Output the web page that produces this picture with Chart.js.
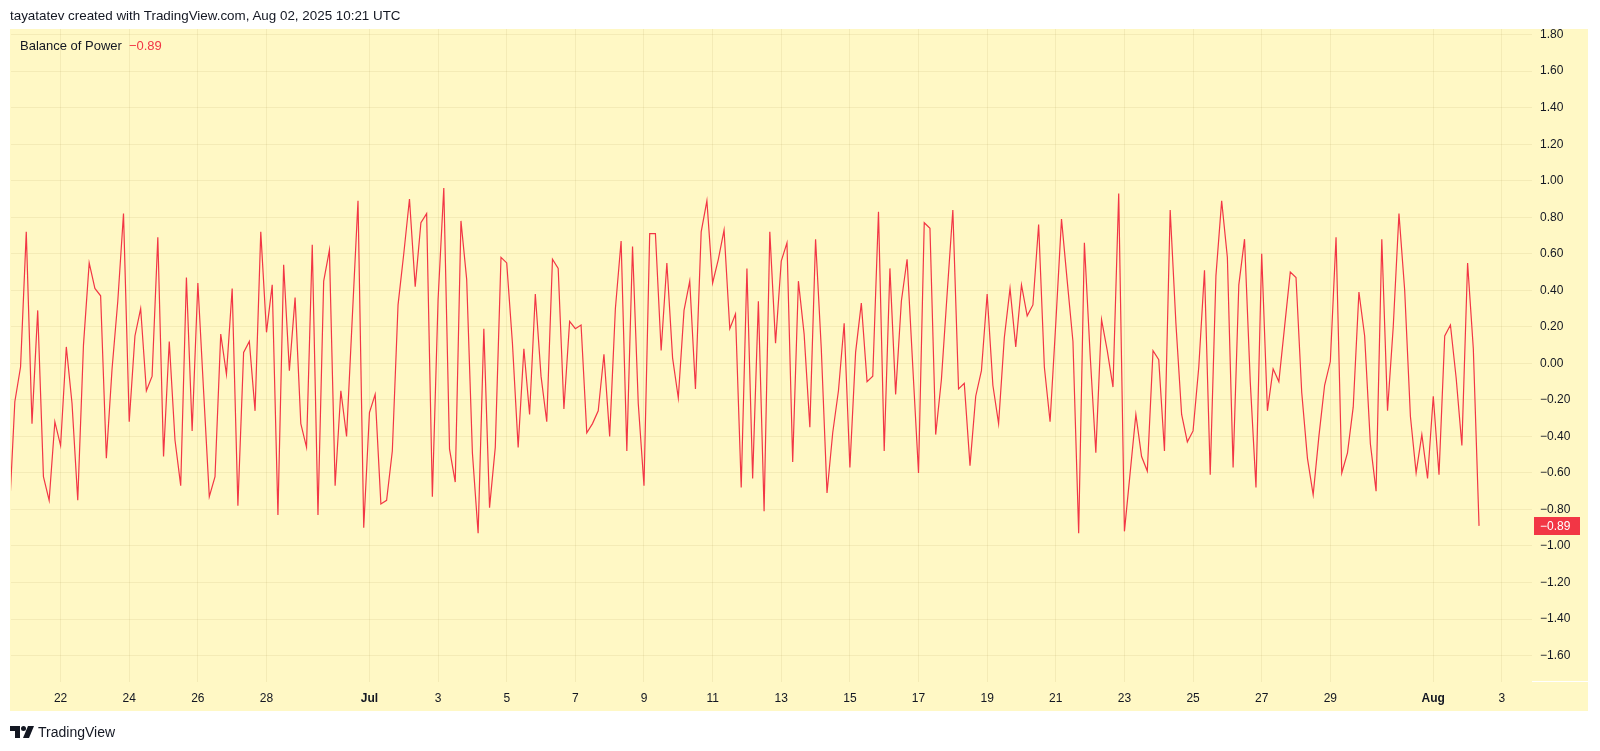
<!DOCTYPE html>
<html>
<head>
<meta charset="utf-8">
<script src="https://cdn.jsdelivr.net/npm/chart.js@4.4.1/dist/chart.umd.min.js"></script>
<style>
  html, body { margin: 0; padding: 0; background: #ffffff; }
  #wrap { position: relative; width: 1600px; height: 751px; overflow: hidden; font-family: "Liberation Sans", Arial, sans-serif; color: #131722; }
  #bop { position: absolute; left: 0; top: 0; }
  .txt { position: absolute; white-space: nowrap; font-size: 13px; line-height: 16px; }
  #header { left: 10px; top: 8px; font-size: 13.4px; }
  #legend { left: 20px; top: 38px; }
  #legend .val { color: #f23645; margin-left: 7px; }
  #footer { left: 10px; top: 724px; font-size: 14px; display: flex; align-items: center; }
  #footer svg { margin-right: 4px; }
</style>
</head>
<body>
<div id="wrap">
  <canvas id="bop" width="1600" height="751"></canvas>
  <div id="header" class="txt">tayatatev created with TradingView.com, Aug 02, 2025 10:21 UTC</div>
  <div id="legend" class="txt">Balance of Power<span class="val">−0.89</span></div>
  <div id="footer" class="txt">
    <svg width="24" height="12" viewBox="0 0 24 12">
      <path d="M0 0 H10 V12 H5 V5 H0 Z" fill="#131722"/>
      <circle cx="13.5" cy="2.5" r="2.5" fill="#131722"/>
      <path d="M18 0 H24 L19 12 H13 Z" fill="#131722"/>
    </svg>
    <span>TradingView</span>
  </div>
</div>

<script>
// Balance of Power, 4h bars, first bar = Jun 20 2025 12:00 UTC
const firstBar = Date.UTC(2025, 5, 20, 12);
const barHours = 4;

const bopValues = [
  -0.85, -0.21, -0.02, 0.72, -0.33, 0.29, -0.62, -0.75, -0.32, -0.45,
  0.09, -0.22, -0.75, 0.10, 0.55, 0.41, 0.37, -0.52, -0.03, 0.34,
  0.82, -0.32, 0.15, 0.30, -0.15, -0.07, 0.69, -0.51, 0.12, -0.42,
  -0.67, 0.47, -0.37, 0.44, -0.15, -0.73, -0.62, 0.16, -0.06, 0.41,
  -0.78, 0.06, 0.12, -0.26, 0.72, 0.17, 0.43, -0.83, 0.54, -0.04,
  0.36, -0.33, -0.46, 0.65, -0.83, 0.45, 0.62, -0.67, -0.15, -0.40,
  0.25, 0.89, -0.90, -0.27, -0.17, -0.77, -0.75, -0.48, 0.32, 0.60,
  0.90, 0.42, 0.77, 0.82, -0.73, 0.35, 0.96, -0.47, -0.65, 0.78,
  0.46, -0.49, -0.93, 0.19, -0.79, -0.46, 0.58, 0.55, 0.11, -0.46,
  0.08, -0.28, 0.38, -0.07, -0.32, 0.57, 0.52, -0.25, 0.23, 0.19,
  0.21, -0.38, -0.33, -0.26, 0.05, -0.40, 0.30, 0.67, -0.48, 0.64,
  -0.22, -0.67, 0.71, 0.71, 0.07, 0.55, 0.03, -0.19, 0.29, 0.45,
  -0.14, 0.72, 0.89, 0.44, 0.57, 0.73, 0.19, 0.27, -0.68, 0.52,
  -0.63, 0.34, -0.81, 0.72, 0.11, 0.56, 0.66, -0.54, 0.45, 0.16,
  -0.35, 0.68, 0.08, -0.71, -0.38, -0.15, 0.22, -0.57, 0.06, 0.33,
  -0.10, -0.07, 0.83, -0.48, 0.52, -0.17, 0.34, 0.57, -0.02, -0.60,
  0.77, 0.74, -0.39, -0.09, 0.38, 0.84, -0.14, -0.11, -0.56, -0.18,
  -0.04, 0.38, -0.12, -0.33, 0.14, 0.41, 0.09, 0.43, 0.26, 0.32,
  0.76, -0.02, -0.32, 0.22, 0.79, 0.45, 0.12, -0.93, 0.66, 0.05,
  -0.49, 0.24, 0.07, -0.13, 0.93, -0.92, -0.60, -0.28, -0.51, -0.59,
  0.07, 0.02, -0.48, 0.84, 0.22, -0.28, -0.43, -0.37, -0.02, 0.51,
  -0.61, 0.48, 0.89, 0.58, -0.57, 0.43, 0.68, -0.10, -0.68, 0.60,
  -0.26, -0.03, -0.10, 0.20, 0.50, 0.47, -0.16, -0.52, -0.72, -0.40,
  -0.12, 0.01, 0.69, -0.60, -0.49, -0.24, 0.39, 0.15, -0.44, -0.70,
  0.68, -0.26, 0.20, 0.82, 0.40, -0.29, -0.60, -0.39, -0.63, -0.18,
  -0.61, 0.15, 0.21, -0.08, -0.45, 0.55, 0.08, -0.89,
];

const tickDates = [
  "2025-06-22", "2025-06-24", "2025-06-26", "2025-06-28", "2025-07-01",
  "2025-07-03", "2025-07-05", "2025-07-07", "2025-07-09", "2025-07-11",
  "2025-07-13", "2025-07-15", "2025-07-17", "2025-07-19", "2025-07-21",
  "2025-07-23", "2025-07-25", "2025-07-27", "2025-07-29", "2025-08-01",
  "2025-08-03",
];
const tickLabels = [
  "22", "24", "26", "28", "Jul", "3", "5", "7", "9", "11", "13",
  "15", "17", "19", "21", "23", "25", "27", "29", "Aug", "3",
];
const yTickValues = [
  -1.6, -1.4, -1.2, -1.0, -0.8, -0.6, -0.4, -0.2, 0, 0.2, 0.4, 0.6,
  0.8, 1.0, 1.2, 1.4, 1.6, 1.8,
];

const paneColor = "#fff8c5";
const gridColor = "rgba(150, 130, 60, 0.10)";
const lineColor = "#f23645";
const textColor = "#131722";
const fontFamily = "'Liberation Sans', Arial, sans-serif";

function barIndex(dateStr) {
  return (Date.parse(dateStr + "T00:00:00Z") - firstBar) / (barHours * 3600 * 1000);
}

function fmt(v) {
  const s = Math.abs(v).toFixed(2);
  return v < -0.0001 ? "\u2212" + s : s;
}

// yellow pane behind everything
const panePlugin = {
  id: "pane",
  beforeDraw(chart) {
    const ctx = chart.ctx;
    ctx.save();
    ctx.fillStyle = paneColor;
    ctx.fillRect(10, 29, 1578, 682);
    ctx.fillStyle = "#ffffff";
    ctx.fillRect(chart.chartArea.right, chart.chartArea.bottom - 1, 1588 - chart.chartArea.right, 1);
    ctx.restore();
  },
};

// last value label on the price scale
const lastValuePlugin = {
  id: "lastValue",
  afterDraw(chart) {
    const ctx = chart.ctx;
    const last = bopValues[bopValues.length - 1];
    const y = Math.round(chart.scales.y.getPixelForValue(last));
    const left = chart.chartArea.right + 2;
    ctx.save();
    ctx.fillStyle = lineColor;
    ctx.fillRect(left, y - 9, 46, 18);
    ctx.fillStyle = "#ffffff";
    ctx.font = "12px " + fontFamily;
    ctx.textAlign = "left";
    ctx.textBaseline = "middle";
    ctx.fillText(fmt(last), chart.chartArea.right + 8, y + 1);
    ctx.restore();
  },
};

new Chart(document.getElementById("bop"), {
  type: "line",
  data: {
    datasets: [
      {
        data: bopValues.map((v, i) => ({ x: i, y: v })),
        borderColor: lineColor,
        borderWidth: 1.2,
        pointRadius: 0,
        tension: 0,
        fill: false,
      },
    ],
  },
  options: {
    responsive: false,
    animation: false,
    devicePixelRatio: 1,
    layout: {
      padding: { top: 29, left: 11, right: 12, bottom: 40 },
    },
    plugins: {
      legend: { display: false },
      tooltip: { enabled: false },
    },
    scales: {
      x: {
        type: "linear",
        min: 0.33,
        max: 266.26,
        afterBuildTicks: (scale) => {
          scale.ticks = tickDates.map((d) => ({ value: barIndex(d) }));
        },
        afterFit: (scale) => {
          scale.height = 29;
        },
        grid: { color: gridColor, drawTicks: false },
        border: { display: false },
        ticks: {
          padding: 9,
          maxRotation: 0,
          autoSkip: false,
          color: textColor,
          font: (ctx) => ({
            family: fontFamily,
            size: 12,
            weight: ["Jul", "Aug"].includes(tickLabels[ctx.index]) ? "bold" : "normal",
          }),
          callback: (value, index) => tickLabels[index],
        },
      },
      y: {
        position: "right",
        min: -1.745,
        max: 1.831,
        afterBuildTicks: (scale) => {
          scale.ticks = yTickValues.map((v) => ({ value: v }));
        },
        afterFit: (scale) => {
          scale.width = 56;
        },
        grid: { color: gridColor, drawTicks: false },
        border: { display: false },
        ticks: {
          padding: 8,
          color: textColor,
          font: { family: fontFamily, size: 12 },
          callback: (value) => fmt(value),
        },
      },
    },
  },
  plugins: [panePlugin, lastValuePlugin],
});
</script>
</body>
</html>
